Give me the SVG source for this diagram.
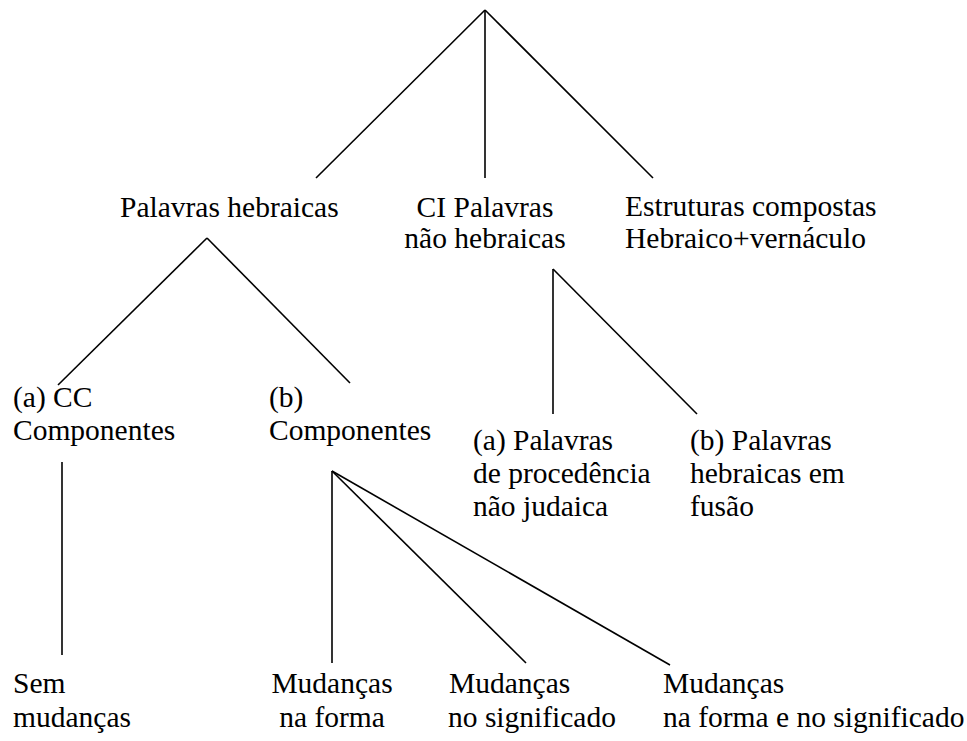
<svg xmlns="http://www.w3.org/2000/svg" width="967" height="741" viewBox="0 0 967 741">
<style>
  .c { text-anchor: middle; }
  line { stroke: #000; stroke-width: 1.6; stroke-linecap: butt; }
</style>
<rect width="967" height="741" fill="#fff"/>
<g id="connectors">
  <line x1="485" y1="10" x2="316" y2="178"/>
  <line x1="485" y1="10" x2="485" y2="178"/>
  <line x1="485" y1="10" x2="653" y2="178"/>
  <line x1="207" y1="238" x2="58" y2="385"/>
  <line x1="207" y1="238" x2="350" y2="383"/>
  <line x1="553" y1="269" x2="553" y2="414"/>
  <line x1="553" y1="269" x2="697" y2="414"/>
  <line x1="62" y1="462" x2="62" y2="655"/>
  <line x1="332" y1="471" x2="332" y2="663"/>
  <line x1="332" y1="471" x2="526" y2="663"/>
  <line x1="332" y1="471" x2="670" y2="665"/>
</g>
<g font-family="'Liberation Serif', 'Times New Roman', Times, serif" font-size="29.5" fill="#000">
<g id="n-hebraicas"><text x="120" y="217">Palavras hebraicas</text></g>
<g id="n-ci"><text class="c" x="485" y="217">CI Palavras</text><text class="c" x="485" y="248">não hebraicas</text></g>
<g id="n-estruturas"><text x="625" y="216">Estruturas compostas</text><text x="625" y="248">Hebraico+vernáculo</text></g>
<g id="n-a-cc"><text x="13" y="407">(a) CC</text><text x="13" y="440">Componentes</text></g>
<g id="n-b-comp"><text x="269" y="407">(b)</text><text x="269" y="440">Componentes</text></g>
<g id="n-a-pal"><text x="473" y="450">(a) Palavras</text><text x="473" y="483">de procedência</text><text x="473" y="516">não judaica</text></g>
<g id="n-b-pal"><text x="690" y="450">(b) Palavras</text><text x="690" y="483">hebraicas em</text><text x="690" y="516">fusão</text></g>
<g id="n-sem"><text x="13" y="693">Sem</text><text x="13" y="727">mudanças</text></g>
<g id="n-forma"><text class="c" x="332" y="693">Mudanças</text><text class="c" x="332" y="727">na forma</text></g>
<g id="n-signif"><text x="449" y="693">Mudanças</text><text x="448" y="727">no significado</text></g>
<g id="n-ambos"><text x="663" y="693">Mudanças</text><text x="663" y="727">na forma e no significado</text></g>
</g>
</svg>
